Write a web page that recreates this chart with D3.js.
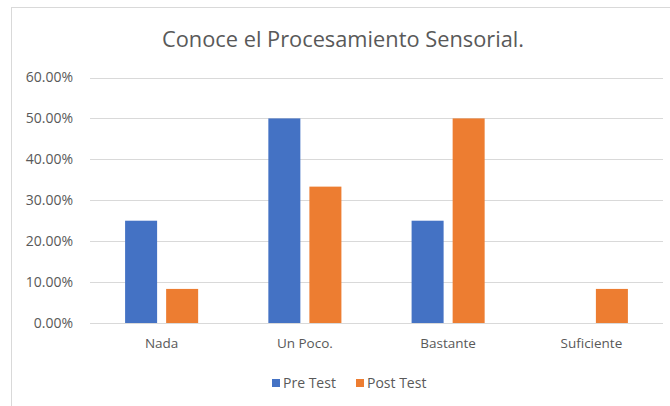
<!DOCTYPE html>
<html>
<head>
<meta charset="utf-8">
<script src="https://cdn.jsdelivr.net/npm/d3@7"></script>
<style>
body{margin:0;background:#fff;}
text{font-family:"Open Sans","Noto Sans",sans-serif;fill:#595959;}
</style>
</head>
<body>
<div id="chart"></div>
<script>
var categories = ['Nada','Un Poco.','Bastante','Suficiente'];
var seriesNames = ['Pre Test','Post Test'];
var preTest = [0.25, 0.50, 0.25, 0];
var postTest = [0.0833, 0.3333, 0.50, 0.0833];
var yTicks = [0, 0.1, 0.2, 0.3, 0.4, 0.5, 0.6];
var colors = ['#4472C4','#ED7D31'];

var width = 670, height = 406;
var svg = d3.select('#chart').append('svg')
	.attr('width',width).attr('height',height);

// chart area border
svg.append('rect')
	.attr('x',11.5).attr('y',7.5)
	.attr('width',width).attr('height',height)
	.attr('fill','#fff').attr('stroke','#d9d9d9');

var plot = {left:90, right:663, top:77.5, bottom:323};

var y = d3.scaleLinear().domain([0,0.6]).range([plot.bottom,plot.top]);
var x0 = d3.scaleBand().domain(categories).range([plot.left,plot.right]).paddingInner(0.49).paddingOuter(0.245);
var x1 = d3.scaleBand().domain(seriesNames).range([0,x0.bandwidth()]).paddingInner(0.22);

// gridlines
svg.append('g').selectAll('line').data(yTicks).join('line')
	.attr('x1',plot.left).attr('x2',plot.right)
	.attr('y1',function(d){return Math.round(y(d))+0.5;})
	.attr('y2',function(d){return Math.round(y(d))+0.5;})
	.attr('stroke','#d9d9d9').attr('stroke-width',1);

// y axis labels
var yAxis = d3.axisLeft(y).tickValues(yTicks).tickSize(0).tickPadding(0)
	.tickFormat(function(d){return (d*100).toFixed(2)+'%';});
var yg = svg.append('g').attr('transform','translate(73,0)').call(yAxis);
yg.select('.domain').remove();
yg.selectAll('text').style('font-size','14px').attr('fill','#595959');

// bars
var rows = categories.map(function(c,i){return {cat:c, vals:[preTest[i],postTest[i]]};});
var groups = svg.append('g').selectAll('g').data(rows).join('g')
	.attr('transform',function(d){return 'translate('+x0(d.cat)+',0)';});
groups.selectAll('rect').data(function(d){
		return d.vals.map(function(v,j){return {name:seriesNames[j], v:v, j:j};});
	}).join('rect')
	.attr('x',function(d){return x1(d.name);})
	.attr('width',x1.bandwidth())
	.attr('y',function(d){return y(d.v);})
	.attr('height',function(d){return plot.bottom-y(d.v);})
	.attr('fill',function(d){return colors[d.j];});

// x axis line
svg.append('line')
	.attr('x1',plot.left).attr('x2',plot.right)
	.attr('y1',Math.round(plot.bottom)+0.5).attr('y2',Math.round(plot.bottom)+0.5)
	.attr('stroke','#d9d9d9');

// category labels
var xAxis = d3.axisBottom(x0).tickSize(0).tickPadding(0);
var xg = svg.append('g').attr('transform','translate(0,'+(plot.bottom+15)+')').call(xAxis);
xg.select('.domain').remove();
xg.selectAll('text').style('font-size','13.5px').attr('fill','#595959');

// title
svg.append('text')
	.attr('x',343).attr('y',47)
	.attr('text-anchor','middle')
	.style('font-size','21.8px')
	.text('Conoce el Procesamiento Sensorial.');

// legend
var legendX = [272, 356];
var legend = svg.append('g').selectAll('g').data(seriesNames).join('g')
	.attr('transform',function(d,i){return 'translate('+legendX[i]+',379)';});
legend.append('rect').attr('width',8).attr('height',8)
	.attr('fill',function(d,i){return colors[i];});
legend.append('text').attr('x',11).attr('y',9)
	.style('font-size','14px')
	.text(function(d){return d;});
</script>
</body>
</html>
